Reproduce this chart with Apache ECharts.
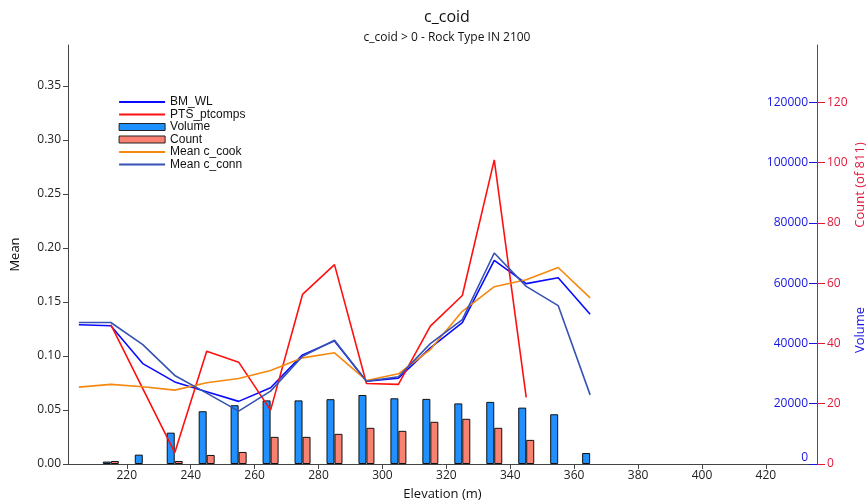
<!DOCTYPE html>
<html>
<head>
<meta charset="utf-8">
<script src="https://cdn.jsdelivr.net/npm/echarts@6/dist/echarts.min.js"></script>
<style>
  html, body { margin: 0; padding: 0; background: #fff; }
  #chart { width: 867px; height: 504px; }
</style>
</head>
<body>
<div id="chart"></div>
<script>
// elevation bins (m)
const elevations = [205, 215, 225, 235, 245, 255, 265, 275, 285, 295, 305, 315, 325, 335, 345, 355, 365];

// mean values (left axis)
const bmWl = [0.129, 0.128, 0.093, 0.076, 0.067, 0.058, 0.0706, 0.101, 0.114, 0.0767, 0.0795, 0.1075, 0.131, 0.1885, 0.167, 0.1725, 0.1386];
const ptsPtcomps = [null, 0.129, null, 0.0105, 0.1044, 0.0943, 0.0499, 0.157, 0.1846, 0.0746, 0.0737, 0.1277, 0.156, 0.2816, 0.0616, null, null];
const meanCook = [0.0712, 0.0737, 0.0715, 0.0684, 0.0752, 0.0792, 0.0866, 0.0983, 0.103, 0.0774, 0.0835, 0.106, 0.1414, 0.1642, 0.1707, 0.182, 0.1538];
const meanConn = [0.131, 0.131, 0.1106, 0.082, 0.0656, 0.049, 0.0675, 0.0998, 0.1146, 0.0767, 0.0808, 0.1115, 0.1337, 0.1954, 0.1645, 0.1467, 0.064];

// bars (right axes)
const volume = [null, 800, 3100, 10400, 17500, 19500, 21100, 21100, 21500, 22900, 21800, 21600, 20100, 20600, 18700, 16500, 3650];
const count = [null, 1, null, 1, 3, 4, 9, 9, 10, 12, 11, 14, 15, 12, 8, null, null];

const pairs = arr => elevations.map((x, i) => [x, arr[i]]).filter(p => p[1] != null);

const FONT = 'Open Sans';
const RED = '#e0183c';
const BLUE = '#1515e0';

const chart = echarts.init(document.getElementById('chart'), null, { renderer: 'canvas' });

const lineSeries = (name, data, color) => ({
  name, type: 'line', data: pairs(data), yAxisIndex: 0,
  symbol: 'none', showSymbol: false, animation: false,
  lineStyle: { color, width: 1.6 }, itemStyle: { color },
});

const lineLegend = name => ({ name, itemStyle: { opacity: 0 }, lineStyle: { width: 2.2 } });
const barLegend = name => ({ name, icon: 'rect', itemStyle: { borderWidth: 1, borderColor: '#222' } });

chart.setOption({
  animation: false,
  title: {
    text: 'c_coid',
    subtext: 'c_coid > 0 - Rock Type IN 2100',
    left: 442, top: 4, textAlign: 'center', itemGap: 7,
    textStyle: { fontFamily: FONT, fontSize: 16, fontWeight: 'normal', color: '#111' },
    subtextStyle: { fontFamily: FONT, fontSize: 12, color: '#111' },
  },
  legend: {
    orient: 'vertical', left: 113, top: 91,
    itemWidth: 46, itemHeight: 7, itemGap: 0.5, padding: 5,
    textStyle: { fontFamily: 'Liberation Sans', fontSize: 12, color: '#111', lineHeight: 12 },
    data: [lineLegend('BM_WL'), lineLegend('PTS_ptcomps'), barLegend('Volume'), barLegend('Count'),
      lineLegend('Mean c_cook'), lineLegend('Mean c_conn')],
  },
  grid: { left: 68, right: 50, top: 45, bottom: 40, outerBoundsMode: 'none' },
  xAxis: {
    type: 'value', min: 201.6, max: 436, splitNumber: 12,
    name: 'Elevation (m)', nameLocation: 'middle', nameGap: 24,
    nameTextStyle: { fontFamily: FONT, fontSize: 13, color: '#111' },
    axisLine: { lineStyle: { color: '#444' } },
    axisTick: { length: 5, lineStyle: { color: '#444' } },
    axisLabel: { fontFamily: FONT, fontSize: 12, color: '#222', margin: 6, showMinLabel: false, showMaxLabel: false },
    splitLine: { show: false },
  },
  yAxis: [
    {
      type: 'value', min: 0, max: 0.388, interval: 0.05, position: 'left',
      name: 'Mean', nameLocation: 'middle', nameGap: 46,
      nameTextStyle: { fontFamily: FONT, fontSize: 13, color: '#111' },
      axisLine: { show: true, lineStyle: { color: '#444' } },
      axisTick: { show: true, length: 5, lineStyle: { color: '#444' } },
      axisLabel: { fontFamily: FONT, fontSize: 12, color: '#222', margin: 7, showMaxLabel: false, formatter: v => v.toFixed(2) },
      splitLine: { show: false },
    },
    {
      type: 'value', min: 0, max: 139000, interval: 20000, position: 'right',
      axisLine: { show: false },
      axisTick: { show: true, inside: true, length: 8, lineStyle: { color: BLUE } },
      axisLabel: { inside: true, margin: 9, fontFamily: FONT, fontSize: 12, color: BLUE, showMaxLabel: false,
        verticalAlignMinLabel: 'bottom', formatter: v => String(v) },
      splitLine: { show: false },
    },
    {
      type: 'value', min: 0, max: 139, interval: 20, position: 'right',
      axisLine: { show: true, lineStyle: { color: '#a0207a' } },
      axisTick: { show: true, length: 8, lineStyle: { color: RED } },
      axisLabel: { margin: 10, fontFamily: FONT, fontSize: 12, color: RED, showMaxLabel: false },
      splitLine: { show: false },
    },
  ],
  graphic: [
    { type: 'text', x: 860, y: 185, rotation: Math.PI / 2,
      style: { text: 'Count (of 811)', fill: RED, font: '13px "Open Sans"', textAlign: 'center', textVerticalAlign: 'middle' } },
    { type: 'text', x: 860, y: 330, rotation: Math.PI / 2,
      style: { text: 'Volume', fill: BLUE, font: '13px "Open Sans"', textAlign: 'center', textVerticalAlign: 'middle' } },
  ],
  series: [
    lineSeries('BM_WL', bmWl, '#0a0aff'),
    lineSeries('PTS_ptcomps', ptsPtcomps, '#ff1010'),
    {
      name: 'Volume', type: 'bar', yAxisIndex: 1, data: pairs(volume),
      barWidth: 8, barGap: '0%',
      itemStyle: { color: '#1e90ff', borderColor: '#111', borderWidth: 1 },
    },
    {
      name: 'Count', type: 'bar', yAxisIndex: 2, data: pairs(count),
      barWidth: 8, barGap: '0%',
      itemStyle: { color: '#fa8072', borderColor: '#111', borderWidth: 1 },
    },
    lineSeries('Mean c_cook', meanCook, '#f5890f'),
    lineSeries('Mean c_conn', meanConn, '#3652b4'),
  ],
});
</script>
</body>
</html>
